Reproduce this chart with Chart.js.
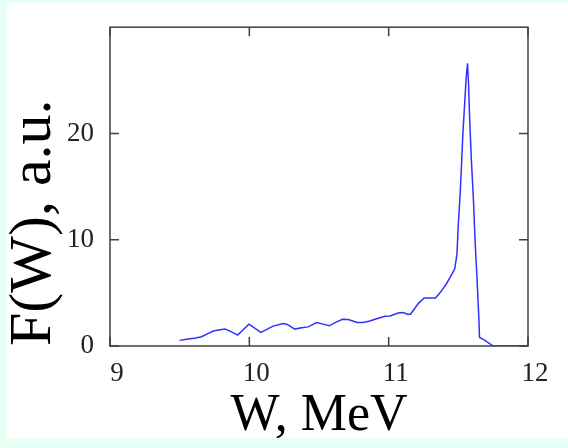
<!DOCTYPE html>
<html>
<head>
<meta charset="utf-8">
<script src="https://cdn.jsdelivr.net/npm/chart.js@4"></script>
<style>
	html, body {
		margin: 0;
		padding: 0;
		background: #e8fff3;
	}
	#panel {
		position: absolute;
		left: 7px;
		top: 3px;
		width: 561px;
		height: 435px;
		background: #ffffff;
	}
</style>
</head>
<body>
<div id="panel"><canvas id="spectrum" width="561" height="435"></canvas></div>
<script>
// energy W (MeV) and spectrum F(W) (a.u.)
const energy = [9.50, 9.55, 9.615, 9.658, 9.705, 9.748, 9.825, 9.861, 9.916, 9.997,
	10.083, 10.171, 10.243, 10.272, 10.327, 10.375, 10.422, 10.483, 10.530, 10.573,
	10.626, 10.669, 10.710, 10.774, 10.817, 10.865, 10.92, 10.973, 11.009, 11.068,
	11.104, 11.135, 11.157, 11.212, 11.255, 11.336, 11.367, 11.415, 11.455, 11.474,
	11.49, 11.50, 11.513, 11.523, 11.532, 11.544, 11.556, 11.566, 11.573, 11.582,
	11.594, 11.609, 11.62, 11.634, 11.647, 11.652, 11.683, 11.75, 12.0];
const fw = [0.53, 0.63, 0.75, 0.87, 1.19, 1.43, 1.59, 1.40, 1.03, 2.06,
	1.28, 1.87, 2.12, 2.03, 1.59, 1.71, 1.80, 2.21, 2.06, 1.90,
	2.27, 2.52, 2.50, 2.21, 2.21, 2.36, 2.58, 2.80, 2.83, 3.11,
	3.15, 2.99, 2.99, 3.99, 4.52, 4.52, 4.98, 5.86, 6.79, 7.26,
	8.6, 11.5, 14.3, 17.1, 19.8, 22.5, 25.2, 26.6, 24.7, 21.1,
	17.4, 13.6, 9.9, 6.4, 2.7, 0.8, 0.6, 0, 0];

const xTicks = [9, 10, 11, 12];
const yTicks = [0, 10, 20];

// box round the plot with short inward ticks on all four sides
const frame = {
	id: 'frame',
	afterDraw(chart) {
		const c = chart.ctx;
		const a = chart.chartArea;
		const sx = chart.scales.x;
		const sy = chart.scales.y;
		c.save();
		c.strokeStyle = '#404040';
		c.lineWidth = 1.5;
		c.strokeRect(a.left, a.top, a.right - a.left, a.bottom - a.top);
		c.beginPath();
		xTicks.forEach(v => {
			const p = sx.getPixelForValue(v);
			c.moveTo(p, a.bottom); c.lineTo(p, a.bottom - 9);
			c.moveTo(p, a.top); c.lineTo(p, a.top + 9);
		});
		yTicks.forEach(v => {
			const p = sy.getPixelForValue(v);
			c.moveTo(a.left, p); c.lineTo(a.left + 9, p);
			c.moveTo(a.right, p); c.lineTo(a.right - 9, p);
		});
		c.stroke();
		c.restore();
	}
};

new Chart(document.getElementById('spectrum'), {
	type: 'line',
	data: {
		datasets: [{
			data: energy.map((w, i) => ({x: w, y: fw[i]})),
			borderColor: '#3030ff',
			borderWidth: 1.5,
			pointRadius: 0,
			tension: 0,
			fill: false
		}]
	},
	options: {
		responsive: false,
		animation: false,
		events: [],
		layout: {
			padding: {left: 0, right: 40, top: 20, bottom: 0}
		},
		plugins: {
			legend: {display: false},
			tooltip: {enabled: false}
		},
		scales: {
			x: {
				type: 'linear',
				min: 9,
				max: 12,
				afterBuildTicks: s => { s.ticks = xTicks.map(v => ({value: v})); },
				afterFit: s => { s.height = 92; },
				grid: {display: false},
				border: {display: false},
				ticks: {
					color: '#222',
					labelOffset: 7,
					padding: 4,
					font: {family: 'Liberation Serif', size: 27}
				},
				title: {
					display: true,
					text: 'W, MeV',
					color: '#000',
					padding: {top: 0, bottom: -10},
					font: {family: 'Liberation Serif', size: 52}
				}
			},
			y: {
				min: 0,
				max: 30,
				afterBuildTicks: s => { s.ticks = yTicks.map(v => ({value: v})); },
				afterFit: s => { s.width = 103; },
				grid: {display: false},
				border: {display: false},
				ticks: {
					color: '#222',
					padding: 8,
					font: {family: 'Liberation Serif', size: 27}
				},
				title: {
					display: true,
					text: 'F(W), a.u.',
					color: '#000',
					align: 'start',
					padding: {top: -3, bottom: 0},
					font: {family: 'Liberation Serif', size: 60, lineHeight: 1}
				}
			}
		}
	},
	plugins: [frame]
});
</script>
</body>
</html>
